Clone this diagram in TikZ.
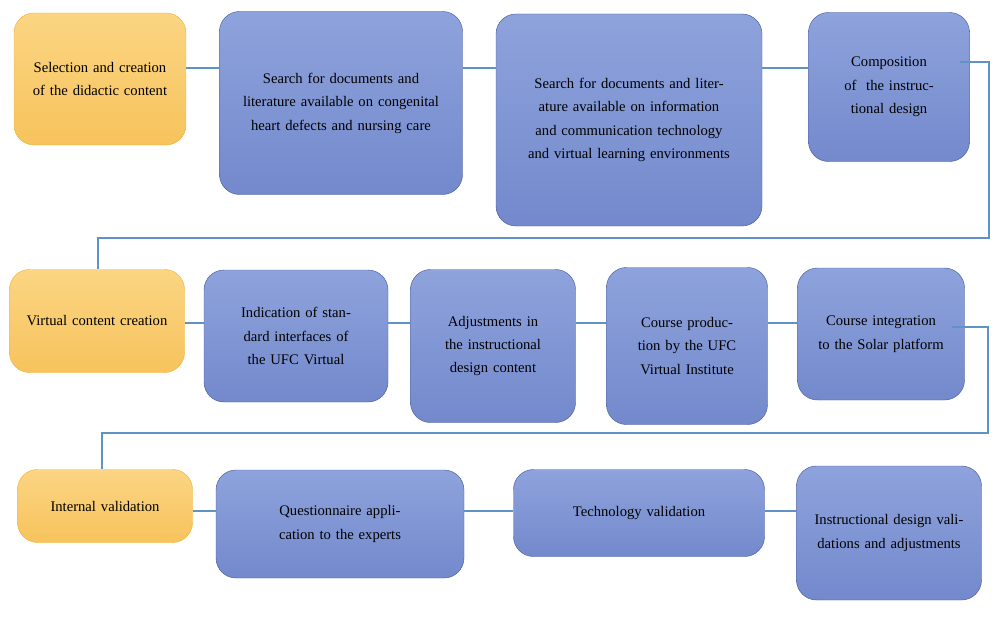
\documentclass[tikz,border=0pt]{standalone}
\usepackage{fontspec}
\setmainfont{Liberation Serif}
\usepackage{tikz}
\usetikzlibrary{positioning}

\definecolor{stepblue}{HTML}{8EA3DC}
\definecolor{stepbluedark}{HTML}{7389CC}
\definecolor{stepedge}{HTML}{4B5F9C}
\definecolor{phasefill}{HTML}{FBD583}
\definecolor{phasedark}{HTML}{F7C35C}
\definecolor{phaseedge}{HTML}{EFB33A}
\definecolor{linkblue}{HTML}{5E93C4}

\begin{document}
\begin{tikzpicture}[
    x=0.03cm, y=-0.03cm,
    stepbox/.style={draw=stepedge, rounded corners=0.6cm, top color=stepblue, bottom color=stepbluedark, align=center, font=\fontsize{12.5}{20}\selectfont, inner sep=2pt},
    phase/.style={stepbox, draw=phaseedge, top color=phasefill, bottom color=phasedark},
    link/.style={draw=linkblue, line width=0.9pt}
]
\useasboundingbox (0,0) rectangle (1000,619);

% Fase 1
\node (select) [phase, minimum width=172*0.03cm, minimum height=132*0.03cm, text width=140*0.03cm] at (100,79) {Selection and creation of the didactic content};
\node (search1) [stepbox, minimum width=243*0.03cm, minimum height=183*0.03cm, text width=210*0.03cm] at (341,103) {Search for documents and literature available on congenital heart defects and nursing care\\[16pt]};
\node (search2) [stepbox, minimum width=266*0.03cm, minimum height=212*0.03cm, text width=240*0.03cm] at (629,120) {Search for documents and literature available on information and communication technology and virtual learning environments\\[4pt]};
\node (compose) [stepbox, minimum width=161*0.03cm, minimum height=149*0.03cm, text width=130*0.03cm] at (889,87) {Composition\\of\ \ the instructional design\\[14pt]};

% Fase 2
\node (virtual) [phase, minimum width=175*0.03cm, minimum height=103*0.03cm, text width=150*0.03cm] at (97,321) {Virtual content creation};
\node (interf) [stepbox, minimum width=184*0.03cm, minimum height=132*0.03cm, text width=150*0.03cm] at (296,336) {Indication of standard interfaces of the UFC Virtual};
\node (adjust) [stepbox, minimum width=165*0.03cm, minimum height=153*0.03cm, text width=130*0.03cm] at (493,346) {Adjustments in the instructional design content};
\node (produce) [stepbox, minimum width=161*0.03cm, minimum height=157*0.03cm, text width=130*0.03cm] at (687,346) {Course production by the UFC Virtual Institute};
\node (integr) [stepbox, minimum width=167*0.03cm, minimum height=132*0.03cm, text width=140*0.03cm] at (881,334) {Course integration to the Solar platform};

% Fase 3
\node (internal) [phase, minimum width=175*0.03cm, minimum height=73*0.03cm, text width=150*0.03cm] at (105,506) {Internal validation};
\node (quest) [stepbox, minimum width=248*0.03cm, minimum height=108*0.03cm, text width=200*0.03cm] at (340,524) {Questionnaire application to the experts\\[4pt]};
\node (techval) [stepbox, minimum width=251*0.03cm, minimum height=87*0.03cm, text width=220*0.03cm] at (639,513) {Technology validation\\[4pt]};
\node (instrval) [stepbox, minimum width=185*0.03cm, minimum height=134*0.03cm, text width=150*0.03cm] at (889,533) {Instructional design validations and adjustments\\[4pt]};

% Conexiones
\draw [link] (select.east |- 0,68) -- (search1.west |- 0,68);
\draw [link] (search1.east |- 0,68) -- (search2.west |- 0,68);
\draw [link] (search2.east |- 0,68) -- (compose.west |- 0,68);
\draw [link] (960,62) -| (989,238) -| (virtual.north -| 98,0);
\draw [link] (virtual.east |- 0,323) -- (interf.west |- 0,323);
\draw [link] (interf.east |- 0,323) -- (adjust.west |- 0,323);
\draw [link] (adjust.east |- 0,323) -- (produce.west |- 0,323);
\draw [link] (produce.east |- 0,323) -- (integr.west |- 0,323);
\draw [link] (952,327) -| (988,433) -| (internal.north -| 102,0);
\draw [link] (internal.east |- 0,511) -- (quest.west |- 0,511);
\draw [link] (quest.east |- 0,511) -- (techval.west |- 0,511);
\draw [link] (techval.east |- 0,511) -- (instrval.west |- 0,511);
\end{tikzpicture}
\end{document}
